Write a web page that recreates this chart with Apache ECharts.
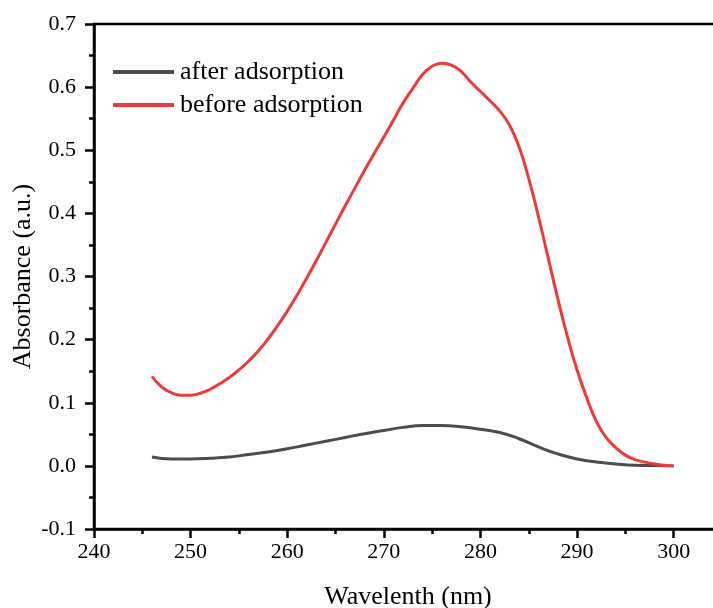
<!DOCTYPE html>
<html>
<head>
<meta charset="utf-8">
<script src="https://cdn.jsdelivr.net/npm/echarts@6/dist/echarts.min.js"></script>
<style>
  html, body { margin: 0; padding: 0; background: #fff; }
  #chart { width: 713px; height: 608px; }
</style>
</head>
<body>
<div id="chart"></div>
<script>
// wavelength (nm) and absorbance
var afterWave = [246, 248, 250, 252, 254, 256, 258, 260, 262, 264, 266, 268, 270, 272, 274, 276, 278, 280, 282, 284, 286, 288, 290, 292, 294, 296, 298, 300];
var afterAbs = [0.014, 0.011, 0.011, 0.012, 0.014, 0.018, 0.022, 0.027, 0.033, 0.039, 0.045, 0.051, 0.056, 0.061, 0.064, 0.064, 0.062, 0.058, 0.053, 0.043, 0.030, 0.019, 0.011, 0.006, 0.003, 0.001, 0.0005, 0];

var beforeWave = [246, 247, 248, 249, 250, 251, 252, 253, 254, 255, 256, 257, 258, 259, 260, 261, 262, 263, 264, 265, 266, 267, 268, 269, 270, 271, 272, 273, 274, 275, 276, 277, 278, 279, 280, 281, 282, 283, 284, 285, 286, 287, 288, 289, 290, 291, 292, 293, 294, 295, 296, 297, 298, 299, 300];
var beforeAbs = [0.142, 0.125, 0.116, 0.112, 0.112, 0.115, 0.121, 0.130, 0.140, 0.152, 0.166, 0.182, 0.201, 0.222, 0.245, 0.270, 0.297, 0.325, 0.354, 0.383, 0.412, 0.440, 0.468, 0.495, 0.521, 0.548, 0.575, 0.598, 0.620, 0.633, 0.638, 0.635, 0.625, 0.608, 0.593, 0.578, 0.562, 0.540, 0.505, 0.455, 0.395, 0.330, 0.265, 0.205, 0.152, 0.108, 0.070, 0.045, 0.029, 0.017, 0.010, 0.006, 0.003, 0.001, 0];

var seriesNames = ['after adsorption', 'before adsorption'];

function pairs(xs, ys) {
  return xs.map(function (x, i) { return [x, ys[i]]; });
}

var font = '"Liberation Serif", "Times New Roman", serif';
var myChart = echarts.init(document.getElementById('chart'));
var option = {
  animation: false,
  backgroundColor: '#fff',
  color: ['#4d4d4d', '#ee3a3a'],
  grid: {
    left: 94,
    top: 24,
    right: -9,
    bottom: 79,
    outerBoundsMode: 'none',
    containLabel: false,
    show: true,
    borderColor: '#000',
    borderWidth: 2.5
  },
  legend: {
    orient: 'vertical',
    left: 108,
    top: 54,
    icon: 'rect',
    itemWidth: 61,
    itemHeight: 4,
    itemGap: 7,
    textStyle: {
      fontFamily: font,
      fontSize: 26,
      lineHeight: 26,
      color: '#000',
      padding: [0, 0, 0, 1]
    },
    data: seriesNames
  },
  xAxis: {
    type: 'value',
    min: 240,
    max: 305,
    interval: 10,
    name: 'Wavelenth (nm)',
    nameLocation: 'middle',
    nameGap: 55,
    nameMoveOverlap: false,
    nameTextStyle: { fontFamily: font, fontSize: 26, color: '#000' },
    axisLine: { show: true, onZero: false, lineStyle: { color: '#000', width: 2.5 } },
    axisTick: { show: true, inside: false, length: 9, lineStyle: { color: '#000', width: 2.5 } },
    minorTick: { show: true, splitNumber: 2, length: 5, lineStyle: { color: '#000', width: 2.5 } },
    axisLabel: {
      showMaxLabel: false,
      margin: 12,
      fontFamily: font,
      fontSize: 22,
      color: '#000'
    },
    splitLine: { show: false }
  },
  yAxis: {
    type: 'value',
    min: -0.1,
    max: 0.7,
    interval: 0.1,
    name: 'Absorbance (a.u.)',
    nameLocation: 'middle',
    nameGap: 58,
    nameMoveOverlap: false,
    nameTextStyle: { fontFamily: font, fontSize: 26, color: '#000' },
    axisLine: { show: true, onZero: false, lineStyle: { color: '#000', width: 2.5 } },
    axisTick: { show: true, inside: false, length: 9, lineStyle: { color: '#000', width: 2.5 } },
    minorTick: { show: true, splitNumber: 2, length: 5, lineStyle: { color: '#000', width: 2.5 } },
    axisLabel: {
      margin: 18,
      fontFamily: font,
      fontSize: 22,
      color: '#000',
      formatter: function (v) { return v.toFixed(1); }
    },
    splitLine: { show: false }
  },
  series: [{
    name: seriesNames[0],
    type: 'line',
    smooth: true,
    showSymbol: false,
    lineStyle: { width: 3, color: '#4d4d4d' },
    data: pairs(afterWave, afterAbs)
  }, {
    name: seriesNames[1],
    type: 'line',
    smooth: true,
    showSymbol: false,
    lineStyle: { width: 3, color: '#ee3a3a' },
    data: pairs(beforeWave, beforeAbs)
  }]
};
myChart.setOption(option);
window.addEventListener('resize', function () {
  myChart.resize();
});
</script>
</body>
</html>
